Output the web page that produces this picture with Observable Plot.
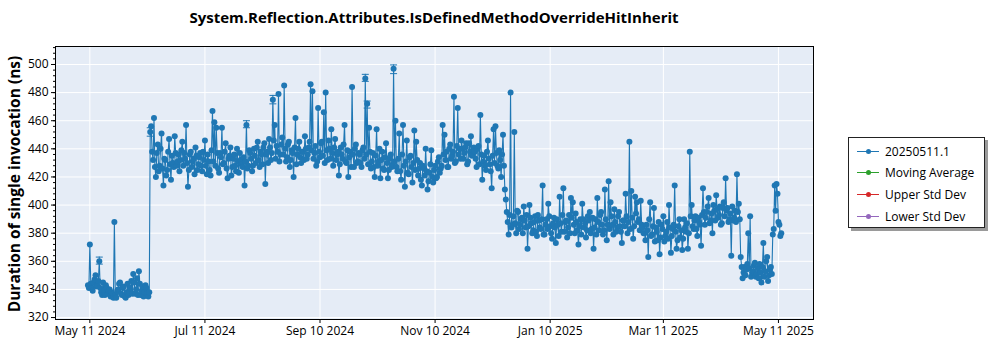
<!DOCTYPE html>
<html><head><meta charset="utf-8">
<script src="https://cdn.jsdelivr.net/npm/d3@7"></script>
<script src="https://cdn.jsdelivr.net/npm/@observablehq/plot@0.6"></script>
<style>
body{margin:0;background:#fff;font-family:"Open Sans",sans-serif;}
#wrap{position:relative;width:1000px;height:350px;overflow:hidden;}
#chart{position:absolute;left:0;top:0;}
#title{position:absolute;left:55px;width:758px;top:7px;text-align:center;font-weight:bold;font-size:15px;color:#000;}
#ylabel{position:absolute;left:14px;top:184px;transform:translate(-50%,-50%) rotate(-90deg);white-space:nowrap;font-weight:bold;font-size:15.5px;color:#000;}
#legend{position:absolute;left:848px;top:137px;width:135px;height:89px;border:1px solid #222;background:#fff;box-shadow:3px 3px 0 #9a9a9a;font-size:12px;}
.li{position:absolute;left:8px;height:20px;display:flex;align-items:center;}
.sw{position:relative;width:22px;height:10px;margin-right:6px;}
.sw .ln{position:absolute;left:0;top:4.5px;width:22px;height:1px;}
.sw .dt{position:absolute;left:8.5px;top:2.5px;width:5px;height:5px;border-radius:50%;}
</style></head><body>
<div id="wrap">
<div id="chart"></div>
<div id="title">System.Reflection.Attributes.IsDefinedMethodOverrideHitInherit</div>
<div id="ylabel">Duration of single invocation (ns)</div>
<div id="legend"></div>
</div>
<script>
// Two runs per day (ns): "A" runs at 00:00, "B" runs at 12:00; each array starts at the given date
const may24A = [343,372,341,345,350,343,360,338,345,336,341,339,335,337,388,334,340,345,336,342,334,344];
const may24B = [341,344,339,347,342,346,341,336,339,343,337,340,338,334,336,339,344,337,341,335,338,336];
const jun24A = [338,346,351,337,348,353,336,342,338,341,335,452,438,462,420,443,428,451,414,432,425,447,418,430,449,428,436,432,445,437];
const jun24B = [341,337,345,340,336,344,339,335,343,337,338,456,432,427,437,424,440,426,433,421,438,429,435,427,437,431,424,439,428,433];
const jul24A = [457,413,436,427,433,441,425,434,428,438,446,422,431,421,467,459,455,426,437,455,430,444,419,435,421,433,428,440,423,432,427];
const jul24B = [430,425,438,431,422,435,429,437,424,432,428,436,425,439,431,428,437,423,434,429,438,426,433,441,427,436,424,431,437,429,434];
const aug24A = [414,457,428,437,424,440,430,445,427,436,441,415,438,447,432,475,457,442,479,436,448,485,431,443,427,439,420,462,436,445,430];
const aug24B = [431,426,439,433,428,435,441,432,438,429,444,436,430,441,437,446,433,438,431,443,436,440,434,445,432,437,441,429,440,434,438];
const sep24A = [438,449,433,441,486,481,437,428,469,434,445,466,480,432,440,454,428,447,436,421,441,433,457,430,420,438,484,427,443,431];
const sep24B = [432,440,436,445,439,433,442,431,438,444,435,430,439,446,433,437,441,432,438,429,436,443,431,439,434,427,436,440,430,437];
const oct24A = [436,427,441,490,472,455,426,437,420,454,431,419,438,425,444,419,433,427,497,460,424,451,418,457,413,446,422,435,416,453,445];
const oct24B = [430,439,433,436,429,438,431,427,435,428,440,432,426,434,430,425,436,429,431,427,433,424,436,428,431,423,434,427,430,425,432];
const nov24A = [421,430,414,426,440,411,423,439,416,428,420,434,426,457,450,438,427,443,435,477,431,469,440,446,433,441,429,444,449,436];
const nov24B = [426,418,428,421,424,417,429,420,425,419,431,423,428,436,432,427,440,433,438,430,442,436,433,440,437,444,431,438,435,441];
const dec24A = [438,427,442,464,418,435,425,446,429,412,454,456,428,439,420,450,411,395,379,480,386,452,380,395,386,391,399,384,369,400,387];
const dec24B = [433,440,429,436,431,428,438,433,424,435,430,437,426,432,436,428,404,388,393,384,392,387,396,383,390,380,389,393,385,391,380];
const jan25A = [382,392,378,389,383,414,379,390,401,385,376,391,373,386,406,381,412,388,377,393,405,402,380,388,372,390,401,384,377,392,395];
const jan25B = [388,381,393,384,390,379,386,383,392,380,387,384,390,378,387,393,381,389,384,380,391,386,394,382,385,379,390,387,382,389,380];
const feb25A = [383,369,390,405,382,395,379,411,375,417,402,386,397,381,392,385,373,389,408,380,445,410,376,406,402,390,403,384];
const feb25B = [391,384,379,388,393,386,382,390,386,383,392,379,388,384,395,381,389,385,392,388,383,391,385,394,388,382,386,380];
const mar25A = [380,386,363,402,379,398,384,375,365,386,392,378,388,400,366,383,414,369,385,377,368,390,381,369,438,400,383,392,378,388,371];
const mar25B = [375,382,390,378,385,374,381,388,377,383,374,381,376,384,378,386,381,375,390,382,376,384,387,380,392,385,389,383,391,386,393];
const apr25A = [412,386,395,405,389,380,396,407,391,399,387,402,419,398,390,364,389,396,422,401,363,348,356,354,380,392,352,357,349,355];
const apr25B = [395,391,399,387,394,400,389,397,393,386,398,392,396,388,394,399,391,388,395,390,356,352,350,358,355,349,353,359,351,348];
const may25A = [358,345,373,353,363,350,356,379,414,415,388,378];
const may25B = [352,356,349,360,346,354,351,383,396,408,386,380];

const segmentStarts = ["2024-05-10","2024-06-01","2024-07-01","2024-08-01","2024-09-01","2024-10-01","2024-11-01","2024-12-01","2025-01-01","2025-02-01","2025-03-01","2025-04-01","2025-05-01"];
const runsA = [may24A,jun24A,jul24A,aug24A,sep24A,oct24A,nov24A,dec24A,jan25A,feb25A,mar25A,apr25A,may25A];
const runsB = [may24B,jun24B,jul24B,aug24B,sep24B,oct24B,nov24B,dec24B,jan25B,feb25B,mar25B,apr25B,may25B];

// Error bars (low/high) on a few runs
const errDates = ["2024-05-16","2024-06-12","2024-08-02","2024-08-16","2024-10-04","2024-10-05","2024-10-19"];
const errLow  = [358,449,455,472,488,469,493.5];
const errHigh = [363,455,460,478,493,474,499.7];

const xTickDates = ["2024-05-11","2024-07-11","2024-09-10","2024-11-10","2025-01-10","2025-03-11","2025-05-11"];
const xTickLabels = ["May 11 2024","Jul 11 2024","Sep 10 2024","Nov 10 2024","Jan 10 2025","Mar 11 2025","May 11 2025"];
const yTicks = [320,340,360,380,400,420,440,460,480,500];
const yMinorTicks = [320,324,328,332,336,340,344,348,352,356,360,364,368,372,376,380,384,388,392,396,400,404,408,412,416,420,424,428,432,436,440,444,448,452,456,460,464,468,472,476,480,484,488,492,496,500,504,508,512];

const legendNames = ["20250511.1","Moving Average","Upper Std Dev","Lower Std Dev"];
const legendColors = ["#1f77b4","#2ca02c","#d62728","#9467bd"];

const data = [];
segmentStarts.forEach((s, k) => {
  runsA[k].forEach((v, i) => {
    const day = d3.utcDay.offset(new Date(s), i);
    data.push({date: day, value: v});
    data.push({date: d3.utcHour.offset(day, 12), value: runsB[k][i]});
  });
});
const errs = errDates.map((d, i) => ({date: new Date(d), lo: errLow[i], hi: errHigh[i]}));
const xTicks = xTickDates.map(d => new Date(d));
const fmtX = new Map(xTickDates.map((d, i) => [+new Date(d), xTickLabels[i]]));

const capSymbol = {draw(ctx, size) { ctx.moveTo(-3.5, 0); ctx.lineTo(3.5, 0); }};
const blue = legendColors[0];

const chart = Plot.plot({
  width: 1000, height: 350,
  marginLeft: 55, marginRight: 187, marginTop: 46, marginBottom: 31,
  style: {fontFamily: "'Open Sans', sans-serif", fontSize: "12px", color: "#000", background: "transparent"},
  x: {type: "utc", domain: [new Date("2024-04-22T19:00Z"), new Date("2025-05-29T14:00Z")]},
  y: {domain: [318.6, 512.8]},
  marks: [
    Plot.frame({fill: "#e5ecf6", stroke: null}),
    Plot.gridY(yTicks, {stroke: "#fff", strokeOpacity: 1, strokeWidth: 1}),
    Plot.gridX(xTicks, {stroke: "#fff", strokeOpacity: 1, strokeWidth: 1}),
    Plot.line(data, {x: "date", y: "value", stroke: blue, strokeWidth: 1.1}),
    Plot.ruleX(errs, {x: "date", y1: "lo", y2: "hi", stroke: blue, strokeWidth: 1}),
    Plot.dot(errs, {x: "date", y: "lo", symbol: capSymbol, stroke: blue, strokeWidth: 1, r: 3}),
    Plot.dot(errs, {x: "date", y: "hi", symbol: capSymbol, stroke: blue, strokeWidth: 1, r: 3}),
    Plot.dot(data, {x: "date", y: "value", r: 3, fill: blue, stroke: null}),
    Plot.frame({stroke: "#000", strokeWidth: 1}),
    Plot.axisY(yMinorTicks, {tickSize: 2, tickFormat: () => "", label: null, stroke: "#000"}),
    Plot.axisY(yTicks, {tickSize: 4, tickPadding: 3, label: null, stroke: "#000", fill: "#000"}),
    Plot.axisX(xTicks, {tickSize: 4, tickPadding: 3, label: null, tickFormat: d => fmtX.get(+d), stroke: "#000", fill: "#000"})
  ]
});
document.getElementById("chart").appendChild(chart);

const lg = document.getElementById("legend");
legendNames.forEach((n, i) => {
  const el = document.createElement("div");
  el.className = "li";
  el.style.top = (3 + i * 21.7) + "px";
  el.innerHTML = `<div class="sw"><div class="ln" style="background:${legendColors[i]}"></div><div class="dt" style="background:${legendColors[i]}"></div></div><span>${n}</span>`;
  lg.appendChild(el);
});
</script>
</body></html>
